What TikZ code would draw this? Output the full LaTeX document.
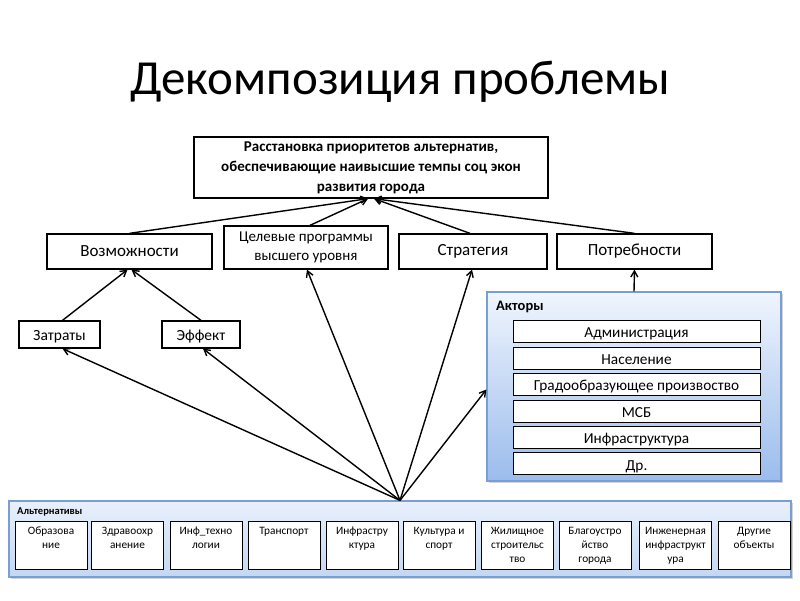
\documentclass[tikz,border=0pt]{standalone}
\usepackage{fontspec}
\setmainfont{Carlito}
\usetikzlibrary{calc,arrows.meta,shadows}
\definecolor{actTop}{RGB}{240,245,253}
\definecolor{actBot}{RGB}{155,188,236}
\definecolor{altTop}{RGB}{232,240,252}
\definecolor{altBot}{RGB}{196,215,243}
\definecolor{grpBorder}{RGB}{120,158,212}
\tikzset{
  box/.style={draw=black, line width=1.3pt, fill=white, inner sep=1pt, align=center},
  mainbox/.style={box, font=\fontsize{17}{19}\selectfont},
  actitem/.style={draw=black, line width=1pt, fill=white, inner sep=0pt,
    minimum width=247, minimum height=22, font=\fontsize{15.3}{17}\selectfont,
    text height=13.5pt, text depth=0pt},
  altitem/.style={draw=black, line width=0.9pt, fill=white, inner sep=0pt,
    minimum width=72, minimum height=48},
  alttext/.style={anchor=north, align=center, inner sep=0pt, font=\fontsize{11.3}{13.7}\selectfont},
  group/.style={draw=grpBorder, line width=1.2pt,
    drop shadow={shadow xshift=2pt, shadow yshift=-2pt, opacity=0.35}},
  arr/.style={-{Straight Barb[length=6pt,width=7pt]}, line width=1.4pt}
}
\begin{document}
\begin{tikzpicture}[x=1pt,y=-1pt]
\useasboundingbox (0,0) rectangle (800,600);
% title
\node[font=\fontsize{49}{53}\selectfont] (title) at (400,82) {Декомпозиция проблемы};
% top box
\node[box, minimum width=354, minimum height=61, font=\bfseries\fontsize{15}{20}\selectfont]
  (top) at (371,167.5) {Расстановка приоритетов альтернатив,\\обеспечивающие наивысшие темпы соц экон\\развития города};
% row 2
\node[mainbox, minimum width=165, minimum height=35] (voz) at (129.5,251.5) {Возможности};
\node[mainbox, minimum width=164, minimum height=43, font=\fontsize{15}{19}\selectfont] (cel) at (306,247.5) {Целевые программы\\высшего уровня};
\node[mainbox, minimum width=148, minimum height=35] (str) at (473,251.5) {Стратегия};
\node[mainbox, minimum width=155, minimum height=35] (potr) at (634.5,251.5) {Потребности};
% row 3
\node[mainbox, font=\fontsize{15.5}{17}\selectfont, minimum width=81, minimum height=27, text height=12.5pt, text depth=0pt] (zat) at (59.5,334.5) {Затраты};
\node[mainbox, font=\fontsize{15.5}{17}\selectfont, minimum width=78, minimum height=27, text height=12.5pt, text depth=0pt] (eff) at (201,334.5) {Эффект};
% actors group
\node[group, top color=actTop, bottom color=actBot, minimum width=294, minimum height=189, inner sep=0pt] (act) at (634,386.5) {};
\node[anchor=west, inner sep=0pt, font=\bfseries\fontsize{14.5}{16}\selectfont] (actl) at (496,307) {Акторы};
\node[actitem] (a1) at (636.5,331) {Администрация};
\node[actitem] (a2) at (636.5,358) {Население};
\node[actitem] (a3) at (636.5,384) {Градообразующее произвоство};
\node[actitem] (a4) at (636.5,411) {МСБ};
\node[actitem] (a5) at (636.5,437) {Инфраструктура};
\node[actitem] (a6) at (636.5,463.5) {Др.};
% alternatives group
\node[group, top color=altTop, bottom color=altBot, minimum width=782, minimum height=76, inner sep=0pt] (alt) at (400,539) {};
\node[anchor=west, inner sep=0pt, font=\bfseries\fontsize{10.5}{12}\selectfont] (altl) at (17,512) {Альтернативы};
\foreach \n/\x in {b1/51, b2/127.5, b3/206, b4/284, b5/362, b6/439, b7/517.5, b8/595, b9/675.5, b10/754}
  \node[altitem] (\n) at (\x,545) {};
\foreach \n/\t in {b1/{Образова\\ние}, b2/{Здравоохр\\анение}, b3/{Инф\_техно\\логии},
  b4/{Транспорт}, b5/{Инфрастру\\ктура}, b6/{Культура и\\спорт},
  b7/{Жилищное\\строительс\\тво}, b8/{Благоустро\\йство\\города},
  b9/{Инженерная\\инфраструкт\\ура}, b10/{Другие\\объекты}}
  \node[alttext] at ($(\n.north)+(0,4)$) {\rule{0pt}{10pt}\t};
% arrows to top
\draw[arr] (voz.north) -- ($(top.south)+(-3,0)$);
\draw[arr] ($(cel.north)+(4,0)$) -- ($(top.south)+(-3,0)$);
\draw[arr] ($(str.north)+(-3,0)$) -- ($(top.south)+(3,0)$);
\draw[arr] (potr.north) -- ($(top.south)+(3,0)$);
% to Возможности
\draw[arr] ($(zat.north)+(3,0)$) -- ($(voz.south)+(-2,0)$);
\draw[arr] (eff.north) -- ($(voz.south)+(2,0)$);
% actors to needs
\draw[arr] (act.north) -- (potr.south);
% alternatives fan
\draw[arr] (alt.north) -- ($(zat.south)+(3,0)$);
\draw[arr] (alt.north) -- ($(eff.south)+(2,0)$);
\draw[arr] (alt.north) -- ($(cel.south)+(1,0)$);
\draw[arr] (alt.north) -- ($(str.south)+(-1,0)$);
\draw[arr] (alt.north) -- ($(act.west)+(0,3)$);
\end{tikzpicture}
\end{document}
